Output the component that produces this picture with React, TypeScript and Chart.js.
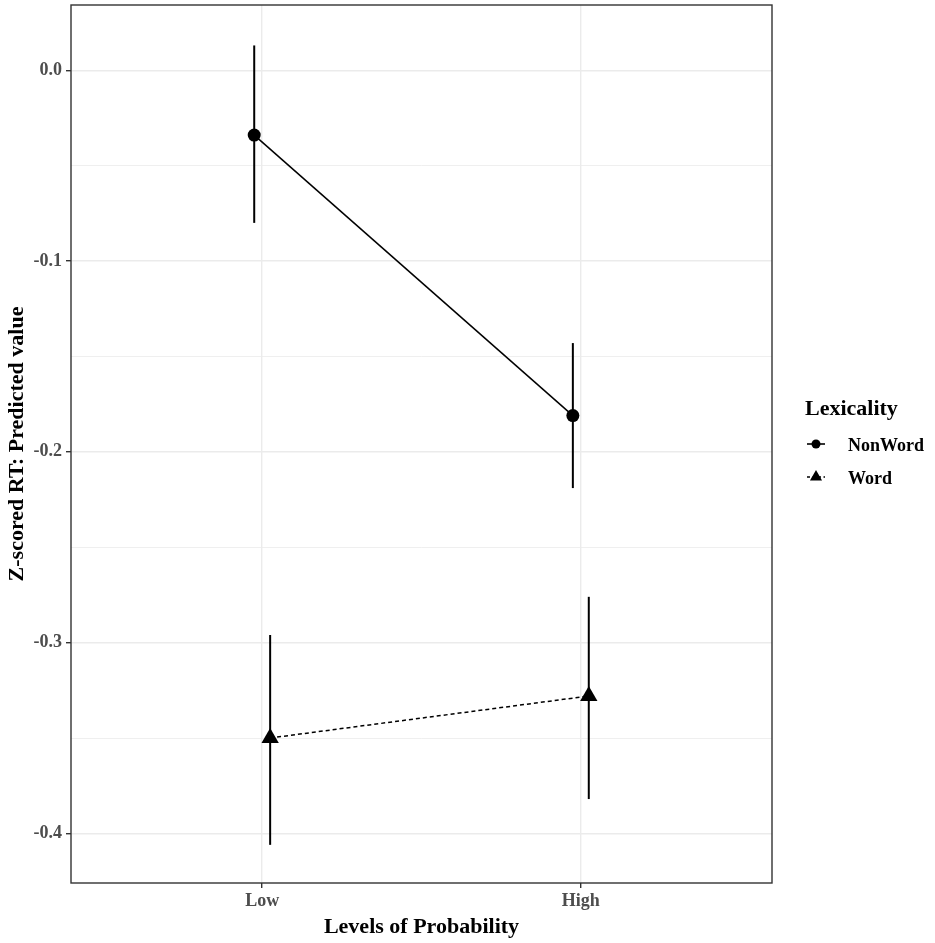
import { useEffect, useRef } from 'react';
import { Chart, registerables, type Plugin } from 'chart.js';

Chart.register(...registerables);

// Data (z-scored RT, predicted value + interval).
const categories = ['Low', 'High'];
const nonWordFit = [-0.034, -0.181];
const nonWordLo = [-0.080, -0.219];
const nonWordHi = [0.013, -0.143];
const wordFit = [-0.350, -0.328];
const wordLo = [-0.406, -0.382];
const wordHi = [-0.296, -0.276];
const yMajorTicks = [-0.4, -0.3, -0.2, -0.1, 0];
const yMinorTicks = [-0.35, -0.25, -0.15, -0.05];

const FONT = '"Liberation Serif", "Times New Roman", serif';
const DODGE = 0.025;
const GRID = '#EBEBEB';
const BORDER = '#333333';

const isMajor = (v: number) => yMajorTicks.some((m) => Math.abs(m - v) < 1e-9);

const toPoints = (vals: number[], shift: number) =>
  vals.map((y, i) => ({ x: i + 1 + shift, y }));

// no label overhang padding: panel edges come from layout padding only
const noPadding = () => ({ left: 0, top: 0, right: 0, bottom: 0 });

// error bars, drawn through the chart scales
const errorBarPlugin: Plugin = {
  id: 'errorBars',
  afterDatasetsDraw(chart) {
    const { ctx, scales } = chart;
    const xs = scales.x;
    const ys = scales.y;
    const bars = [
      { lo: nonWordLo, hi: nonWordHi, shift: -DODGE },
      { lo: wordLo, hi: wordHi, shift: DODGE },
    ];
    ctx.save();
    ctx.strokeStyle = '#000';
    ctx.lineWidth = 2;
    bars.forEach(({ lo, hi, shift }) => {
      lo.forEach((l, i) => {
        const px = xs.getPixelForValue(i + 1 + shift);
        ctx.beginPath();
        ctx.moveTo(px, ys.getPixelForValue(l));
        ctx.lineTo(px, ys.getPixelForValue(hi[i]));
        ctx.stroke();
      });
    });
    ctx.restore();
  },
};

// panel border + ggplot-like legend on the right
const panelAndLegendPlugin: Plugin = {
  id: 'panelLegend',
  afterDraw(chart) {
    const { ctx, chartArea } = chart;
    const { left, top, right, bottom } = chartArea;
    ctx.save();
    ctx.strokeStyle = BORDER;
    ctx.lineWidth = 1.4;
    ctx.strokeRect(left, top, right - left, bottom - top);

    const lx = right + 33;
    const midY = (top + bottom) / 2;
    ctx.fillStyle = '#000';
    ctx.textBaseline = 'alphabetic';
    ctx.textAlign = 'left';
    ctx.font = `bold 22px ${FONT}`;
    ctx.fillText('Lexicality', lx, midY - 29);

    const keyX0 = lx + 2;
    const keyX1 = lx + 20;
    const keyC = (keyX0 + keyX1) / 2;
    const rows = [
      { label: 'NonWord', y: midY, dash: [] as number[], shape: 'circle' },
      { label: 'Word', y: midY + 33, dash: [3, 2.5], shape: 'triangle' },
    ];
    ctx.font = `bold 18px ${FONT}`;
    rows.forEach((r) => {
      ctx.strokeStyle = '#000';
      ctx.lineWidth = 1.6;
      ctx.setLineDash(r.dash);
      ctx.beginPath();
      ctx.moveTo(keyX0, r.y);
      ctx.lineTo(keyX1, r.y);
      ctx.stroke();
      ctx.setLineDash([]);
      ctx.beginPath();
      if (r.shape === 'circle') {
        ctx.arc(keyC, r.y, 4.5, 0, Math.PI * 2);
      } else {
        const rad = 7;
        ctx.moveTo(keyC, r.y - rad);
        ctx.lineTo(keyC + rad * 0.866, r.y + rad / 2);
        ctx.lineTo(keyC - rad * 0.866, r.y + rad / 2);
        ctx.closePath();
      }
      ctx.fill();
      ctx.fillText(r.label, lx + 43, r.y + 7);
    });
    ctx.restore();
  },
};

export default function App() {
  const canvasRef = useRef<HTMLCanvasElement | null>(null);

  useEffect(() => {
    document.body.style.margin = '0';
    const ctx = canvasRef.current?.getContext('2d');
    if (!ctx) return undefined;

    const chart = new Chart(ctx, {
      type: 'scatter',
      data: {
        datasets: [
          {
            label: 'NonWord',
            data: toPoints(nonWordFit, -DODGE),
            showLine: true,
            borderColor: '#000',
            borderWidth: 1.5,
            pointStyle: 'circle',
            pointRadius: 6.5,
            pointBorderWidth: 0,
            pointBackgroundColor: '#000',
          },
          {
            label: 'Word',
            data: toPoints(wordFit, DODGE),
            showLine: true,
            borderColor: '#000',
            borderWidth: 1.5,
            borderDash: [4, 3],
            pointStyle: 'triangle',
            pointRadius: 10,
            pointBorderWidth: 0,
            pointBackgroundColor: '#000',
          },
        ],
      },
      options: {
        responsive: false,
        animation: false,
        layout: {
          autoPadding: false,
          padding: { top: 5, right: 163, left: 0, bottom: 0 },
        },
        plugins: {
          legend: { display: false },
          tooltip: { enabled: false },
        },
        scales: {
          x: {
            type: 'linear',
            min: 0.4,
            max: 2.6,
            afterBuildTicks: (scale) => {
              scale.ticks = categories.map((_, i) => ({ value: i + 1 }));
            },
            afterFit: (scale) => {
              scale.height = 60;
              (scale as unknown as { getPadding: typeof noPadding }).getPadding = noPadding;
            },
            ticks: {
              autoSkip: false,
              maxRotation: 0,
              padding: 3,
              color: '#4D4D4D',
              font: { family: FONT, size: 18, weight: 'bold' },
              callback: (v) => categories[Number(v) - 1] ?? '',
            },
            grid: {
              color: GRID,
              lineWidth: 1.4,
              tickLength: 5,
              tickColor: BORDER,
              tickWidth: 1.4,
            },
            border: { display: false },
            title: {
              display: true,
              text: 'Levels of Probability',
              color: '#000',
              font: { family: FONT, size: 22, weight: 'bold' },
              padding: { top: 0, bottom: 2 },
            },
          },
          y: {
            type: 'linear',
            min: -0.426,
            max: 0.0342,
            afterBuildTicks: (scale) => {
              scale.ticks = [...yMajorTicks, ...yMinorTicks]
                .sort((a, b) => a - b)
                .map((value) => ({ value }));
            },
            afterFit: (scale) => {
              scale.width = 71;
              (scale as unknown as { getPadding: typeof noPadding }).getPadding = noPadding;
            },
            ticks: {
              autoSkip: false,
              padding: 4,
              color: '#4D4D4D',
              font: { family: FONT, size: 18, weight: 'bold' },
              callback: (v) => (isMajor(Number(v)) ? Number(v).toFixed(1) : ''),
            },
            grid: {
              color: GRID,
              lineWidth: (c) => (c.tick && isMajor(c.tick.value) ? 1.4 : 0.8),
              tickLength: 5,
              tickColor: (c) => (c.tick && isMajor(c.tick.value) ? BORDER : 'rgba(0,0,0,0)'),
              tickWidth: 1.4,
            },
            border: { display: false },
            title: {
              display: true,
              text: 'Z-scored RT: Predicted value',
              color: '#000',
              font: { family: FONT, size: 22, weight: 'bold' },
              padding: { top: 4, bottom: 0 },
            },
          },
        },
      },
      plugins: [errorBarPlugin, panelAndLegendPlugin],
    });

    return () => chart.destroy();
  }, []);

  return (
    <div style={{ width: 935, height: 943 }}>
      <canvas ref={canvasRef} width={935} height={943} style={{ width: 935, height: 943 }} />
    </div>
  );
}
